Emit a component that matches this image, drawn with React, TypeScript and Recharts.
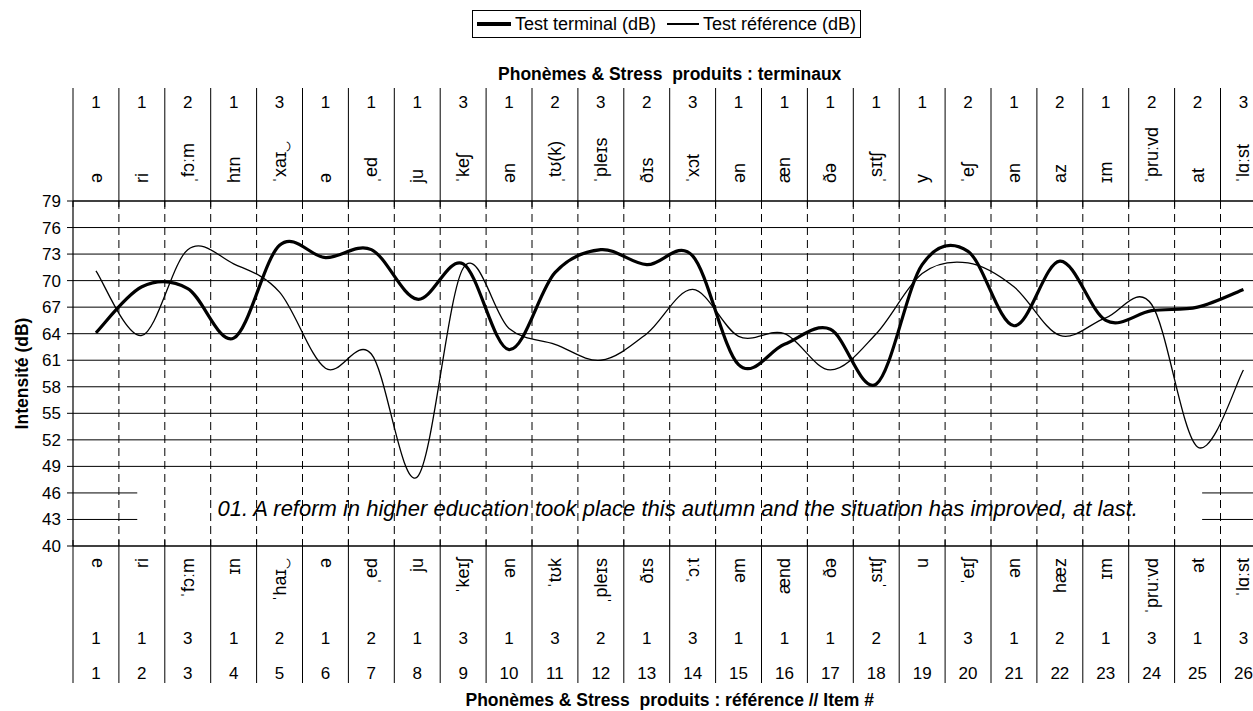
import React from 'react'
import { Legend, Line, LineChart, ReferenceLine, XAxis, YAxis } from 'recharts'

// item numbers (x) and the two intensity series (dB)
const items = [1, 2, 3, 4, 5, 6, 7, 8, 9, 10, 11, 12, 13, 14, 15, 16, 17, 18, 19, 20, 21, 22, 23, 24, 25, 26]

const terminalDb = [
  64.1, 69.3, 69.1, 63.5, 74.0, 72.6, 73.5, 67.9, 71.9, 62.2, 70.9, 73.5, 71.8,
  72.8, 60.5, 62.8, 64.5, 58.3, 71.8, 73.3, 64.9, 72.2, 65.5, 66.6, 67.0, 69.0,
]

const referenceDb = [
  71.1, 63.8, 73.5, 71.9, 68.7, 60.1, 61.7, 47.8, 71.4, 64.6, 62.8, 61.0, 64.0,
  69.0, 63.7, 64.0, 59.9, 64.0, 70.8, 72.0, 69.3, 63.8, 65.8, 67.3, 51.2, 59.9,
]

// header : what the terminal produced
const terminalStress = [1, 1, 2, 1, 3, 1, 1, 1, 3, 1, 2, 3, 2, 3, 1, 1, 1, 1, 1, 2, 1, 2, 1, 2, 2, 3]
const terminalPhonemes = [
  'ə', 'ri', 'ˌfɔːm', 'hɪn', 'ˈxaɪ‿', 'ə', 'ˌed', 'ju', 'ˈkeʃ', 'ən', 'ˌtʊ(k)', 'ˈpleɪs', 'ðɪs',
  'ˈxɔt', 'ən', 'æn', 'ðə', 'ˌsɪtʃ', 'y', 'ˈeʃ', 'ən', 'az', 'ɪm', 'ˈpruːvd', 'at', 'ˈlɑːst',
]

// footer : reference
const referencePhonemes = [
  'ə', 'ri', 'ˈfɔːm', 'ɪn', 'ˈhaɪ‿', 'ə', 'ˌed', 'ju', 'ˈkeɪʃ', 'ən', 'ˈtʊk', 'ˌpleɪs', 'ðɪs',
  'ˈɔːt', 'əm', 'ænd', 'ðə', 'ˌsɪtʃ', 'u', 'ˈeɪʃ', 'ən', 'hæz', 'ɪm', 'ˈpruːvd', 'ət', 'ˈlɑːst',
]
const referenceStress = [1, 1, 3, 1, 2, 1, 2, 1, 3, 1, 3, 2, 1, 3, 1, 1, 1, 2, 1, 3, 1, 2, 1, 3, 1, 3]

const yTicks = [40, 43, 46, 49, 52, 55, 58, 61, 64, 67, 70, 73, 76, 79]
const fullGridValues = [49, 52, 55, 58, 61, 64, 67, 70, 73, 76]
const brokenGridValues = [43, 46]

const SENTENCE = '01. A reform in higher education took place this autumn and the situation has improved, at last.'
const TOP_TITLE = 'Phonèmes & Stress\u00a0 produits : terminaux'
const BOTTOM_TITLE = 'Phonèmes & Stress\u00a0 produits : référence // Item #'

const SERIES = [
  { key: 'terminal', name: 'Test terminal (dB)', width: 3.2, sample: 34 },
  { key: 'reference', name: 'Test référence (dB)', width: 1.3, sample: 32 },
]

const data = items.map((item, i) => ({ item, terminal: terminalDb[i], reference: referenceDb[i] }))
const boundaries = items.slice(0, -1).map((i) => i + 0.5)

// layout
const FONT = '"Liberation Sans", Arial, Helvetica, sans-serif'
const CHART_W = 1270
const CHART_H = 711
const PLOT_LEFT = 73
const PLOT_RIGHT = 1266.4
const PLOT_TOP = 201
const PLOT_BOTTOM = 546
const BAND = (PLOT_RIGHT - PLOT_LEFT) / items.length
const NUM_SIZE = 17
const PHON_SIZE = 18
const TITLE_SIZE = 17.5
// the sentence box hides part of the 43 / 46 grid lines
const BOX_FROM = 1.9
const BOX_TO = 25.1

// Excel-like smoothed line (Catmull-Rom through every point)
const excelSmooth = (context: any) => {
  let xs: number[] = []
  let ys: number[] = []
  return {
    areaStart() {},
    areaEnd() {},
    lineStart() {
      xs = []
      ys = []
    },
    lineEnd() {
      const n = xs.length
      if (!n) return
      context.moveTo(xs[0], ys[0])
      for (let i = 0; i < n - 1; i += 1) {
        const a = Math.max(i - 1, 0)
        const d = Math.min(i + 2, n - 1)
        context.bezierCurveTo(
          xs[i] + (xs[i + 1] - xs[a]) / 6,
          ys[i] + (ys[i + 1] - ys[a]) / 6,
          xs[i + 1] - (xs[d] - xs[i]) / 6,
          ys[i + 1] - (ys[d] - ys[i]) / 6,
          xs[i + 1],
          ys[i + 1],
        )
      }
    },
    point(x: number, y: number) {
      xs.push(+x)
      ys.push(+y)
    },
  }
}

function TopTick(props: any) {
  const { x, y, payload } = props
  const i = payload.value - 1
  const left = x - BAND / 2
  return (
    <g>
      <line x1={left} x2={left} y1={y - 113} y2={y + 6} stroke="#000" />
      <text x={x} y={y - 99} textAnchor="middle" dominantBaseline="central" fontSize={NUM_SIZE} fill="#000">
        {terminalStress[i]}
      </text>
      <text
        x={x}
        y={y - 18}
        transform={`rotate(-90 ${x} ${y - 18})`}
        textAnchor="start"
        dominantBaseline="central"
        fontSize={PHON_SIZE}
        fill="#000"
      >
        {terminalPhonemes[i]}
      </text>
    </g>
  )
}

function BottomTick(props: any) {
  const { x, y, payload } = props
  const i = payload.value - 1
  const left = x - BAND / 2
  return (
    <g>
      <line x1={left} x2={left} y1={y - 6} y2={y + 137} stroke="#000" />
      <text
        x={x}
        y={y + 12}
        transform={`rotate(-90 ${x} ${y + 12})`}
        textAnchor="end"
        dominantBaseline="central"
        fontSize={PHON_SIZE}
        fill="#000"
      >
        {referencePhonemes[i]}
      </text>
      <text x={x} y={y + 92} textAnchor="middle" dominantBaseline="central" fontSize={NUM_SIZE} fill="#000">
        {referenceStress[i]}
      </text>
      <text x={x} y={y + 127} textAnchor="middle" dominantBaseline="central" fontSize={NUM_SIZE} fill="#000">
        {payload.value}
      </text>
    </g>
  )
}

function LegendBox() {
  return (
    <div
      style={{
        display: 'inline-flex',
        alignItems: 'center',
        boxSizing: 'border-box',
        border: '1px solid #000',
        height: 28,
        padding: '0 4px',
        fontSize: 18,
        lineHeight: '20px',
        color: '#000',
        fontFamily: FONT,
        background: '#fff',
        whiteSpace: 'nowrap',
      }}
    >
      {SERIES.map((s, idx) => (
        <div key={s.key} style={{ display: 'flex', alignItems: 'center', marginLeft: idx ? 11 : 0 }}>
          <span
            style={{ display: 'inline-block', width: s.sample, height: s.width, background: '#000', marginRight: 4 }}
          />
          <span>{s.name}</span>
        </div>
      ))}
    </div>
  )
}

function YTitle(props: any) {
  const vb = props.viewBox ?? { x: 0, y: PLOT_TOP, width: PLOT_LEFT, height: PLOT_BOTTOM - PLOT_TOP }
  const cx = vb.x + 22
  const cy = vb.y + vb.height / 2
  return (
    <text
      x={cx}
      y={cy}
      transform={`rotate(-90 ${cx} ${cy})`}
      textAnchor="middle"
      dominantBaseline="central"
      fontSize={TITLE_SIZE}
      fontWeight="bold"
      fill="#000"
    >
      Intensité (dB)
    </text>
  )
}

export default function App() {
  return (
    <div
      style={{
        position: 'absolute',
        top: 0,
        left: 0,
        width: 1253,
        height: 711,
        overflow: 'hidden',
        background: '#fff',
        fontFamily: FONT,
      }}
    >
      <LineChart
        width={CHART_W}
        height={CHART_H}
        data={data}
        margin={{ top: 0, right: CHART_W - PLOT_RIGHT, bottom: 0, left: 0 }}
      >
        <XAxis
          xAxisId="top"
          orientation="top"
          type="number"
          dataKey="item"
          domain={[0.5, 26.5]}
          ticks={items}
          interval={0}
          allowDataOverflow
          height={PLOT_TOP}
          tickLine={false}
          tickSize={0}
          tickMargin={0}
          axisLine={{ stroke: '#000', strokeWidth: 1.6 }}
          tick={(p: any) => <TopTick {...p} />}
          label={{
            value: TOP_TITLE,
            position: 'insideTop',
            offset: 68,
            style: { fontWeight: 'bold', fontSize: TITLE_SIZE, fill: '#000' },
          }}
        />
        <XAxis
          xAxisId="bottom"
          orientation="bottom"
          type="number"
          dataKey="item"
          domain={[0.5, 26.5]}
          ticks={items}
          interval={0}
          allowDataOverflow
          height={CHART_H - PLOT_BOTTOM}
          tickLine={false}
          tickSize={0}
          tickMargin={0}
          axisLine={{ stroke: '#000', strokeWidth: 1.6 }}
          tick={(p: any) => <BottomTick {...p} />}
          label={{
            value: BOTTOM_TITLE,
            position: 'insideBottom',
            offset: 5,
            style: { fontWeight: 'bold', fontSize: TITLE_SIZE, fill: '#000' },
          }}
        />
        <YAxis
          type="number"
          domain={[40, 79]}
          ticks={yTicks}
          interval={0}
          allowDataOverflow
          width={PLOT_LEFT}
          tickSize={6}
          tickMargin={6}
          axisLine={{ stroke: '#000', strokeWidth: 1.2 }}
          tickLine={{ stroke: '#000' }}
          tick={{ fill: '#000', fontSize: NUM_SIZE }}
          label={{ content: (p: any) => <YTitle {...p} /> }}
        />

        {fullGridValues.map((v) => (
          <ReferenceLine key={`h${v}`} xAxisId="top" y={v} stroke="#000" strokeWidth={1} />
        ))}
        {brokenGridValues.map((v) => (
          <ReferenceLine
            key={`hl${v}`}
            xAxisId="top"
            segment={[{ x: 0.5, y: v }, { x: BOX_FROM, y: v }]}
            stroke="#000"
            strokeWidth={1}
          />
        ))}
        {brokenGridValues.map((v) => (
          <ReferenceLine
            key={`hr${v}`}
            xAxisId="top"
            segment={[{ x: BOX_TO, y: v }, { x: 26.5, y: v }]}
            stroke="#000"
            strokeWidth={1}
          />
        ))}
        {boundaries.map((b) => (
          <ReferenceLine key={`v${b}`} xAxisId="top" x={b} stroke="#000" strokeWidth={1} strokeDasharray="8 5" />
        ))}
        <ReferenceLine
          xAxisId="top"
          y={44.3}
          stroke="none"
          label={{
            value: SENTENCE,
            position: 'center',
            dx: 8,
            style: { fontStyle: 'italic', fontSize: 22, fill: '#000' },
          }}
        />

        <Legend
          layout="horizontal"
          verticalAlign="middle"
          align="center"
          wrapperStyle={{ top: 10, left: 472, width: 'auto', height: 'auto' }}
          content={() => <LegendBox />}
        />

        {SERIES.map((s) => (
          <Line
            key={s.key}
            xAxisId="top"
            dataKey={s.key}
            name={s.name}
            type={excelSmooth as any}
            stroke="#000"
            strokeWidth={s.width}
            dot={false}
            activeDot={false}
            isAnimationActive={false}
          />
        ))}
      </LineChart>
    </div>
  )
}
